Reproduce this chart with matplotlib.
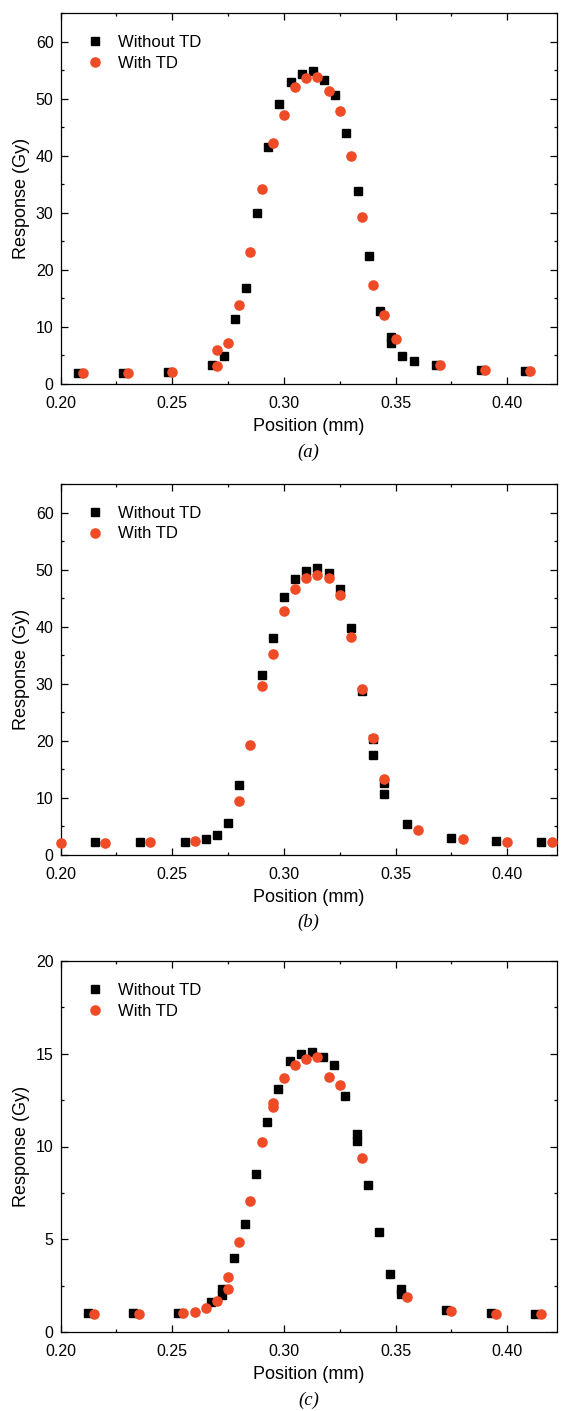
"""Dose profiles across the beam, with and without TD, three panels (a)-(c)."""
import matplotlib
matplotlib.use("Agg")
import matplotlib.pyplot as plt
from matplotlib.ticker import MultipleLocator, FormatStrFormatter

plt.rcParams["font.family"] = ["Liberation Sans", "DejaVu Sans"]

RED = "#EE4B26"

# panel (a)
a_wo_x = [0.208, 0.228, 0.248, 0.268, 0.273, 0.278, 0.283, 0.288, 0.293, 0.298,
          0.303, 0.308, 0.313, 0.318, 0.323, 0.328, 0.333, 0.338, 0.343, 0.348,
          0.348, 0.353, 0.358, 0.368, 0.388, 0.408]
a_wo_y = [2.0, 2.0, 2.1, 3.3, 4.9, 11.4, 16.9, 29.9, 41.5, 49.0,
          52.9, 54.3, 54.8, 53.3, 50.7, 43.9, 33.9, 22.4, 12.8, 8.3,
          7.1, 4.9, 4.1, 3.3, 2.5, 2.2]
a_w_x = [0.21, 0.23, 0.25, 0.27, 0.27, 0.275, 0.28, 0.285, 0.29, 0.295,
         0.30, 0.305, 0.31, 0.315, 0.32, 0.325, 0.33, 0.335, 0.34, 0.345,
         0.35, 0.37, 0.39, 0.41]
a_w_y = [2.0, 2.0, 2.1, 3.1, 5.9, 7.1, 13.9, 23.1, 34.2, 42.3,
         47.1, 52.1, 53.6, 53.75, 51.4, 47.9, 39.9, 29.2, 17.4, 12.1,
         7.9, 3.3, 2.45, 2.2]

# panel (b)
b_wo_x = [0.2155, 0.2355, 0.2555, 0.265, 0.270, 0.275, 0.280, 0.290, 0.295, 0.300,
          0.305, 0.310, 0.315, 0.320, 0.325, 0.330, 0.335, 0.340, 0.340, 0.345,
          0.345, 0.355, 0.375, 0.395, 0.415]
b_wo_y = [2.2, 2.2, 2.3, 2.7, 3.4, 5.5, 12.3, 31.5, 38.0, 45.2,
          48.3, 49.8, 50.2, 49.4, 46.6, 39.7, 28.7, 20.3, 17.5, 12.5,
          10.7, 5.3, 3.0, 2.4, 2.2]
b_w_x = [0.20, 0.22, 0.24, 0.26, 0.28, 0.285, 0.29, 0.295, 0.30, 0.305,
         0.31, 0.315, 0.32, 0.325, 0.33, 0.335, 0.34, 0.345, 0.36, 0.38,
         0.40, 0.42]
b_w_y = [2.1, 2.1, 2.15, 2.4, 9.5, 19.3, 29.5, 35.2, 42.7, 46.6,
         48.5, 49.0, 48.5, 45.6, 38.2, 29.0, 20.5, 13.2, 4.3, 2.8,
         2.3, 2.2]

# panel (c)
c_wo_x = [0.2125, 0.2325, 0.2525, 0.2675, 0.2725, 0.2725, 0.2775, 0.2825, 0.2875, 0.2925,
          0.2975, 0.3025, 0.3075, 0.3125, 0.3175, 0.3225, 0.3275, 0.3325, 0.3325, 0.3375,
          0.3425, 0.3475, 0.3525, 0.3525, 0.3725, 0.3925, 0.4125]
c_wo_y = [1.0, 1.0, 1.05, 1.6, 2.3, 2.0, 4.0, 5.8, 8.5, 11.3,
          13.1, 14.6, 15.0, 15.1, 14.85, 14.4, 12.7, 10.65, 10.3, 7.9,
          5.4, 3.1, 2.3, 2.05, 1.2, 1.0, 0.97]
c_w_x = [0.215, 0.235, 0.255, 0.26, 0.265, 0.27, 0.275, 0.275, 0.28, 0.285,
         0.29, 0.295, 0.295, 0.30, 0.305, 0.31, 0.315, 0.32, 0.325, 0.335,
         0.355, 0.375, 0.395, 0.415]
c_w_y = [0.95, 0.95, 1.04, 1.08, 1.31, 1.69, 2.32, 2.95, 4.87, 7.08,
         10.24, 12.13, 12.35, 13.68, 14.38, 14.72, 14.84, 13.76, 13.3, 9.4,
         1.9, 1.13, 0.99, 0.95]

panels = [
    ("(a)", a_wo_x, a_wo_y, a_w_x, a_w_y, 65, 10, 5),
    ("(b)", b_wo_x, b_wo_y, b_w_x, b_w_y, 65, 10, 5),
    ("(c)", c_wo_x, c_wo_y, c_w_x, c_w_y, 20, 5, 2.5),
]

W, H = 561, 1411
fig = plt.figure(figsize=(W / 100, H / 100), dpi=100)

# axes boxes in pixels: left, top, right, bottom
boxes = [(60.5, 13, 556.5, 384), (60.5, 484, 556.5, 854.7), (60.5, 961, 556.5, 1332)]

for (tag, wx, wy, tx, ty, ymax, ymaj, ymin), (l, t, r, b) in zip(panels, boxes):
    ax = fig.add_axes([l / W, 1 - b / H, (r - l) / W, (b - t) / H])
    ax.plot(wx, wy, ls="none", marker="s", ms=5.6, color="black",
            label="Without TD", clip_on=False, zorder=3)
    ax.plot(tx, ty, ls="none", marker="o", ms=6.6, color=RED, mec=RED,
            label="With TD", clip_on=False, zorder=4)
    ax.set_xlim(0.20, 0.422)
    ax.set_ylim(0, ymax)
    ax.xaxis.set_major_locator(MultipleLocator(0.05))
    ax.xaxis.set_minor_locator(MultipleLocator(0.025))
    ax.xaxis.set_major_formatter(FormatStrFormatter("%.2f"))
    ax.yaxis.set_major_locator(MultipleLocator(ymaj))
    ax.yaxis.set_minor_locator(MultipleLocator(ymin))
    ax.tick_params(which="both", direction="in", top=True, right=True,
                   labelsize=11.5, width=0.9)
    ax.tick_params(which="major", length=5)
    ax.tick_params(which="minor", length=2.5)
    ax.tick_params(axis="x", which="major", pad=9)
    ax.tick_params(axis="y", which="major", pad=5)
    for s in ax.spines.values():
        s.set_linewidth(0.9)
    ax.set_xlabel("Position (mm)", fontsize=13, labelpad=5)
    ax.set_ylabel("Response (Gy)", fontsize=13, labelpad=4)
    ax.legend(loc="upper left", bbox_to_anchor=(0.005, 1.0), frameon=False,
              fontsize=12, handlelength=1.2, handletextpad=0.8,
              labelspacing=0.35, borderaxespad=0.9)
    fig.text((l + r) / 2 / W, 1 - (b + 68) / H, tag, ha="center", va="center",
             fontsize=13.5, family=["Liberation Serif", "DejaVu Serif"], style="italic")

fig.savefig("out.png", dpi=100)
